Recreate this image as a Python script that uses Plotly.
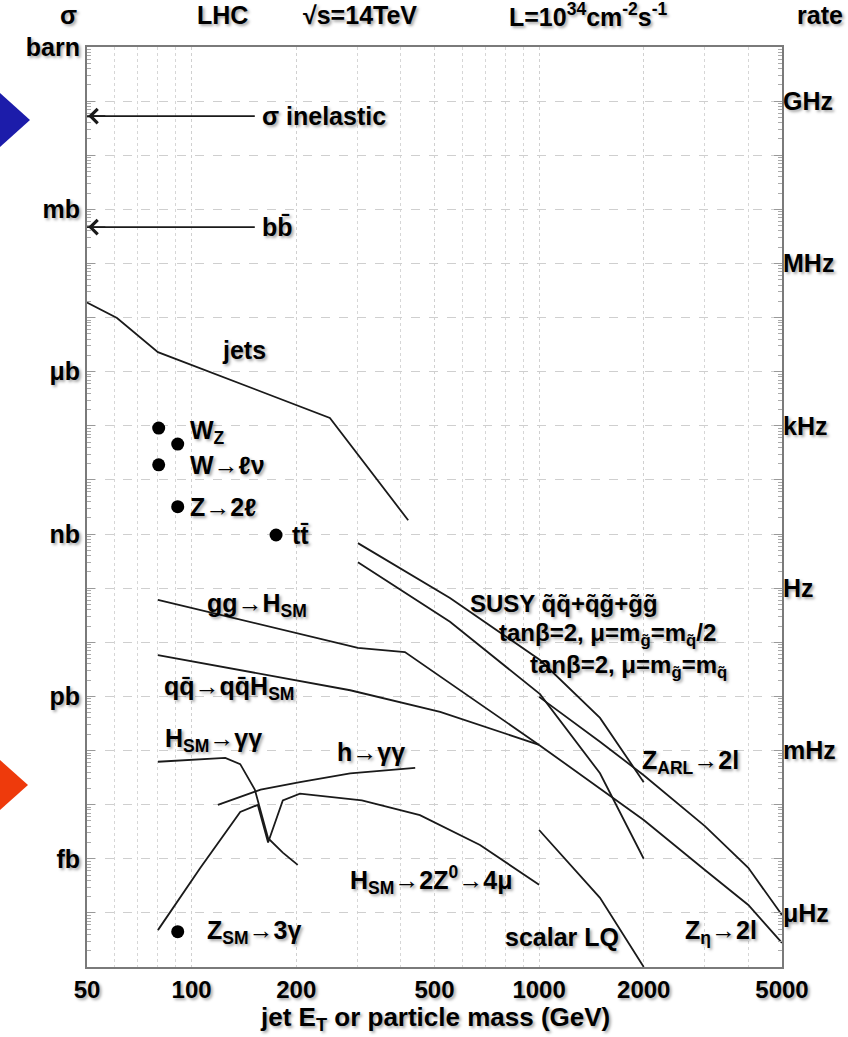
import numpy as np
import plotly.graph_objects as go

# ---------------- data (GeV, barn) ----------------
jets_E = [50, 61, 80, 250, 420]
jets_sigma = [1.9e-5, 9.8e-6, 2.3e-6, 1.4e-7, 1.8e-9]

ggH_E = [80, 147, 301, 411, 1000]
ggH_sigma = [6.1e-11, 2.4e-11, 7.9e-12, 6.6e-12, 1.27e-13]

qqH_E = [80, 147, 286, 519, 1000]
qqH_sigma = [5.8e-12, 2.8e-12, 1.3e-12, 5.2e-13, 1.27e-13]

Hgg_E = [80, 99, 125, 138, 152, 166, 183, 202]
Hgg_sigma = [6.2e-14, 6.7e-14, 7.3e-14, 5.6e-14, 1.9e-14, 2.4e-15, 1.3e-15, 7.7e-16]

hgg_E = [119, 158, 205, 286, 440]
hgg_sigma = [9.9e-15, 1.9e-14, 2.6e-14, 3.8e-14, 4.8e-14]

HZZ_E = [80, 106, 138, 155, 166, 183, 205, 309, 454, 676, 1000]
HZZ_sigma = [4.8e-17, 6.8e-16, 7.3e-15, 9.9e-15, 2.0e-15, 1.2e-14, 1.6e-14, 1.2e-14, 6.4e-15, 1.8e-15, 3.3e-16]

susy1_E = [301, 554, 1006, 1497, 2000]
susy1_sigma = [6.8e-10, 6.6e-11, 4.7e-12, 4.0e-13, 2.6e-14]

susy2_E = [301, 554, 1006, 1497, 2000]
susy2_sigma = [3.0e-10, 2.4e-11, 1.1e-12, 3.8e-14, 1.0e-15]

zarl_E = [1000, 1500, 2000, 3000, 4000, 5000]
zarl_sigma = [9.8e-13, 1.44e-13, 3.5e-14, 4.0e-15, 6.8e-16, 9.1e-17]

zeta_E = [1000, 1500, 2000, 3000, 4000, 5000]
zeta_sigma = [1.27e-13, 2.0e-14, 5.2e-15, 6.2e-16, 1.4e-16, 2.8e-17]

lq_E = [1000, 1497, 2000]
lq_sigma = [3.4e-15, 1.9e-16, 1.0e-17]

points_E = [80.4, 91.2, 80.4, 91.2, 175]
points_sigma = [9.1e-8, 4.6e-8, 1.9e-8, 3.2e-9, 9.6e-10]
zsm3g_E = [91.2]
zsm3g_sigma = [4.5e-17]

sigma_inel = 0.053
sigma_bb = 4.7e-4
arrow_tail_E = 152

x_tick_vals = [50, 100, 200, 500, 1000, 2000, 5000]
x_tick_text = ["50", "100", "200", "500", "1000", "2000", "5000"]
y_tick_vals = [1e0, 1e-3, 1e-6, 1e-9, 1e-12, 1e-15]
y_tick_text = ["barn", "mb", "\u03bcb", "nb", "pb", "fb"]
rate_tick_vals = [1e9, 1e6, 1e3, 1e0, 1e-3, 1e-6]
rate_tick_text = ["GHz", "MHz", "kHz", "Hz", "mHz", "\u03bcHz"]
luminosity = 1e10  # barn^-1 s^-1  (1e34 cm^-2 s^-1)

# ---------------- figure ----------------
W, H = 848, 1037
L, R, T, B = 87, 66, 47, 70
FONT = "Liberation Sans, Arial, Helvetica, DejaVu Sans, sans-serif"
SHADOW = "2px 2px 3px rgba(0,0,0,0.35)"
LINE = dict(color="#1a1a1a", width=1.8)

def px2x(px):  # plot-area pixel -> log10(GeV), used only for label placement
    return np.log10(50) + (px - L) / ((W - L - R) / 2.0)

def py2y(py):  # plot-area pixel -> log10(barn), used only for label placement
    return -(py - T) / ((H - T - B) / 17.0)

fig = go.Figure()

curves = [(jets_E, jets_sigma), (ggH_E, ggH_sigma), (qqH_E, qqH_sigma),
          (Hgg_E, Hgg_sigma), (hgg_E, hgg_sigma), (HZZ_E, HZZ_sigma),
          (susy1_E, susy1_sigma), (susy2_E, susy2_sigma), (zarl_E, zarl_sigma),
          (zeta_E, zeta_sigma), (lq_E, lq_sigma)]
for xs, ys in curves:
    fig.add_trace(go.Scatter(x=xs, y=ys, mode="lines", line=LINE,
                             showlegend=False, hoverinfo="skip"))

fig.add_trace(go.Scatter(x=points_E + zsm3g_E, y=points_sigma + zsm3g_sigma, mode="markers",
                         marker=dict(color="black", size=13), showlegend=False, hoverinfo="skip"))

# arrow lines
for s in (sigma_inel, sigma_bb):
    fig.add_trace(go.Scatter(x=[50, arrow_tail_E], y=[s, s], mode="lines", line=LINE,
                             showlegend=False, hoverinfo="skip"))
    fig.add_annotation(x=np.log10(50.4), y=np.log10(s), ax=np.log10(57), ay=np.log10(s),
                       axref="x", ayref="y", xref="x", yref="y", text="",
                       showarrow=True, arrowhead=4, arrowsize=2.0, arrowwidth=1.4,
                       arrowcolor="#1a1a1a")

# grids / tick positions
x_grid = [m * 10 ** d for d in (1, 2, 3) for m in range(1, 10)
          if 50 <= m * 10 ** d <= 5000 and m * 10 ** d not in x_tick_vals]
y_decades = [10.0 ** k for k in range(-17, 1) if k % 3 != 0]
y_minor = [m * 10.0 ** k for k in range(-17, 0) for m in range(2, 10)]
r_decades = [10.0 ** k for k in range(-7, 11) if k % 3 != 0]
r_minor = [m * 10.0 ** k for k in range(-7, 10) for m in range(2, 10)]

# invisible traces to anchor the extra axes
for ax_name, yv in (("y2", 1e0), ("y3", 1e-8), ("y4", 1e0)):
    fig.add_trace(go.Scatter(x=[100], y=[yv], yaxis=ax_name, mode="markers",
                             marker=dict(opacity=0), showlegend=False, hoverinfo="skip"))

tickfont = dict(family=FONT, size=24, color="black", weight="bold", shadow=SHADOW)
ytickfont = dict(family=FONT, size=25, color="black", weight="bold", shadow=SHADOW)

fig.update_layout(
    width=W, height=H, margin=dict(l=L, r=R, t=T, b=B),
    paper_bgcolor="white", plot_bgcolor="white",
    font=dict(family=FONT, color="black"),
    xaxis=dict(type="log", range=[np.log10(50), np.log10(5000)],
               tickvals=x_tick_vals, ticktext=x_tick_text,
               tickfont=tickfont, ticks="", showgrid=True, gridcolor="#d0d0d0",
               griddash="dot", gridwidth=1,
               minor=dict(tickvals=x_grid, showgrid=True, gridcolor="#d6d6d6",
                          griddash="dot", gridwidth=1, ticks=""),
               showline=True, linecolor="#7a7a7a",
               linewidth=2, mirror=True, zeroline=False),
    yaxis=dict(type="log", range=[-17, 0], tickvals=y_tick_vals, ticktext=y_tick_text,
               tickfont=ytickfont, ticks="inside", ticklen=8, tickcolor="#999",
               showgrid=True, gridcolor="#cfcfcf", griddash="dash", gridwidth=1,
               minor=dict(tickvals=y_decades, ticks="inside", ticklen=8, tickcolor="#999",
                          showgrid=True, gridcolor="#cfcfcf", griddash="dash", gridwidth=1),
               showline=True, linecolor="#7a7a7a", linewidth=2, mirror=True, zeroline=False),
    yaxis3=dict(type="log", range=[-17, 0], overlaying="y", side="left",
                tickvals=y_minor, showticklabels=False, ticks="inside", ticklen=4,
                tickcolor="#aaa", showgrid=False, zeroline=False, showline=False),
    yaxis2=dict(type="log", range=[-7, 10], overlaying="y", side="right",
                tickvals=rate_tick_vals, ticktext=rate_tick_text,
                tickfont=ytickfont, ticks="inside", ticklen=8, tickcolor="#999",
                minor=dict(tickvals=r_decades, ticks="inside", ticklen=8, tickcolor="#999",
                           showgrid=False),
                showgrid=False, zeroline=False, showline=False),
    yaxis4=dict(type="log", range=[-7, 10], overlaying="y", side="right",
                tickvals=r_minor, showticklabels=False, ticks="inside", ticklen=4,
                tickcolor="#aaa", showgrid=False, zeroline=False, showline=False),
)

# decorative triangles
def ppx(px): return (px - L) / (W - L - R)
def ppy(py): return (H - B - py) / (H - T - B)
for (pts, col) in (([(0, 93), (30, 120), (0, 147)], "#1c1caa"),
                   ([(0, 760), (28, 785), (0, 810)], "#ee3a0c")):
    path = "M " + " L ".join(f"{ppx(a):.4f} {ppy(b):.4f}" for a, b in pts) + " Z"
    fig.add_shape(type="path", path=path, xref="paper", yref="paper",
                  fillcolor=col, line=dict(width=0), layer="above")

lab_font = dict(family=FONT, size=25, color="black", weight="bold", shadow=SHADOW)

def label(text, px, py, size=25):
    f = dict(lab_font); f["size"] = size
    fig.add_annotation(x=px2x(px), y=py2y(py), xref="x", yref="y", text=text,
                       showarrow=False, xanchor="left", yanchor="middle", font=f)

label("\u03c3 inelastic", 260, 116)
label("bb\u0304", 260, 227)
label("jets", 220, 350)
label("W<sub>Z</sub>", 188, 432)
label("W\u2192\u2113\u03bd", 188, 465)
label("Z\u21922\u2113", 188, 507)
label("tt\u0304", 290, 535)
label("gg\u2192H<sub>SM</sub>", 205, 605)
label("qq\u0304\u2192qq\u0304H<sub>SM</sub>", 162, 688)
label("H<sub>SM</sub>\u2192\u03b3\u03b3", 163, 740)
label("h\u2192\u03b3\u03b3", 335, 752)
label("H<sub>SM</sub>\u21922Z<sup>0</sup>\u21924\u03bc", 348, 880)
label("Z<sub>SM</sub>\u21923\u03b3", 205, 932)
label("SUSY q\u0303q\u0303+q\u0303g\u0303+g\u0303g\u0303", 468, 603, size=24)
label("tan\u03b2=2, \u03bc=m<sub>g\u0303</sub>=m<sub>q\u0303</sub>/2", 497, 634, size=24)
label("tan\u03b2=2, \u03bc=m<sub>g\u0303</sub>=m<sub>q\u0303</sub>", 528, 666, size=24)
label("Z<sub>ARL</sub>\u21922l", 640, 762)
label("scalar LQ", 503, 937)
label("Z<sub>\u03b7</sub>\u21922l", 683, 932)

def top(text, px, py, size=25, anchor="center"):
    f = dict(lab_font); f["size"] = size
    fig.add_annotation(x=ppx(px), y=ppy(py), xref="paper", yref="paper", text=text,
                       showarrow=False, xanchor=anchor, yanchor="middle", font=f)

top("\u03c3", 68, 15)
top("LHC", 222, 15)
top("\u221as=14TeV", 360, 15)
top("L=10<sup>34</sup>cm<sup>-2</sup>s<sup>-1</sup>", 588, 15)
top("rate", 820, 15)
top("jet E<sub>T</sub> or particle mass (GeV)", 435, 1018, size=26)

fig.write_html("out.html")
